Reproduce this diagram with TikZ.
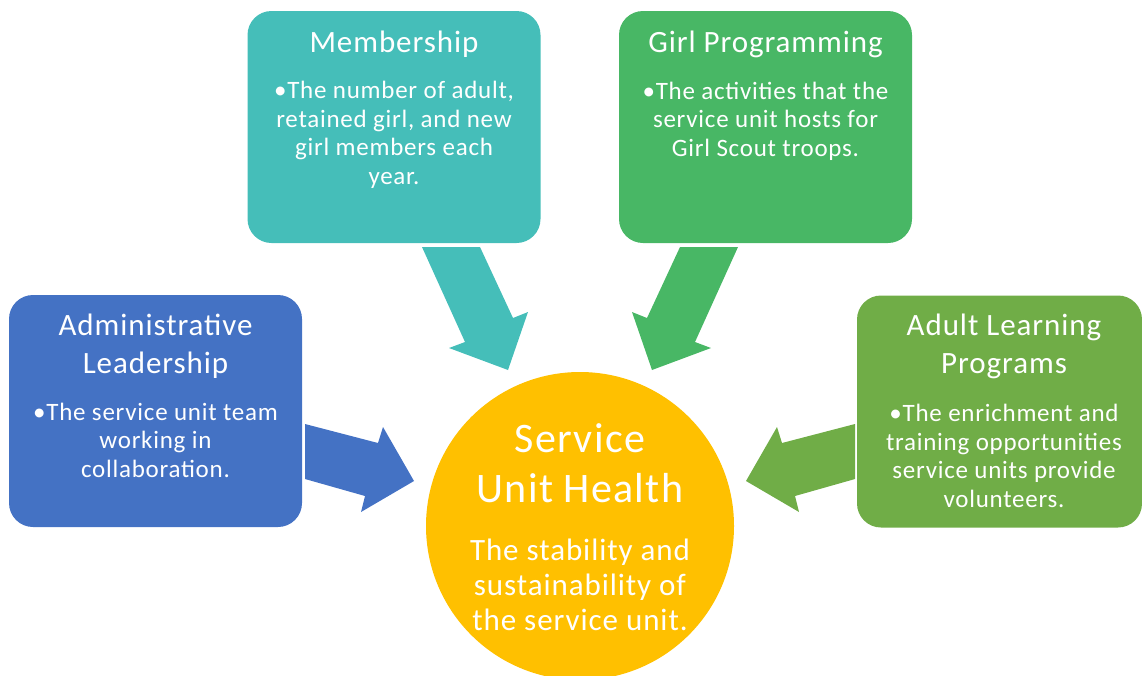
\documentclass[tikz,border=0pt]{standalone}
\usepackage{fontspec}
\setmainfont{Carlito}[LetterSpace=3]

\definecolor{memberteal}{RGB}{69,190,185}
\definecolor{progreen}{RGB}{72,183,101}
\definecolor{adminblue}{RGB}{68,114,196}
\definecolor{adultgreen}{RGB}{112,173,71}
\definecolor{healthgold}{RGB}{255,192,0}

\tikzset{
  card/.style={rounded corners=24pt, minimum width=293pt, minimum height=232pt, inner sep=0pt},
  heading/.style={text=white, font=\fontsize{31}{38}\selectfont, align=center, anchor=base},
  bullets/.style={text=white, font=\fontsize{25}{28.5}\selectfont, align=center, anchor=base},
}

\begin{document}
\begin{tikzpicture}[x=1pt, y=-1pt]
    \clip (0,0) rectangle (1142,675);

    % block arrows towards the centre
    \fill[memberteal] (422,247) -- (480,247) -- (513,318) -- (528,312) -- (508,370) -- (449,348) -- (465,342) -- cycle;
    \fill[progreen] (738,247) -- (680,247) -- (647,318) -- (632,312) -- (652,370) -- (711,348) -- (695,342) -- cycle;
    \fill[adminblue] (305,424) -- (378,443) -- (383,427) -- (414,481) -- (361,512) -- (365,496) -- (305,479) -- cycle;
    \fill[adultgreen] (855,424) -- (782,443) -- (777,427) -- (746,481) -- (799,512) -- (795,496) -- (855,479) -- cycle;

    % the four cards (text nodes sit on the baseline of their last line)
    \node[card, fill=memberteal] (member) at (394,127) {};
    \node[heading] (memberhead) at (394,52) {Membership};
    \node[bullets] (membertext) at (394,184) {•The number of adult,\\retained girl, and new\\girl members each\\year.};

    \node[card, fill=progreen] (prog) at (765.5,127) {};
    \node[heading] (proghead) at (765.5,52) {Girl Programming};
    \node[bullets] (progtext) at (765.5,156) {•The activities that the\\service unit hosts for\\Girl Scout troops.};

    \node[card, fill=adminblue] (admin) at (155.5,411) {};
    \node[heading] (adminhead) at (155.5,373) {Administrative\\Leadership};
    \node[bullets] (admintext) at (155.5,477) {•The service unit team\\working in\\collaboration.};

    \node[card, fill=adultgreen, minimum width=285pt] (adult) at (999.5,411.5) {};
    \node[heading] (adulthead) at (1004,373) {Adult Learning\\Programs};
    \node[bullets] (adulttext) at (1004,507) {•The enrichment and\\training opportunities\\service units provide\\volunteers.};

    % centre
    \node[circle, fill=healthgold, minimum size=308pt, inner sep=0pt] (health) at (580,526) {};
    \node[text=white, font=\fontsize{42}{50}\selectfont, align=center, anchor=base] (healthhead) at (580,502) {Service\\Unit Health};
    \node[text=white, font=\fontsize{31}{35}\selectfont, align=center, anchor=base] (healthtext) at (580,630) {The stability and\\sustainability of\\the service unit.};
\end{tikzpicture}
\end{document}
